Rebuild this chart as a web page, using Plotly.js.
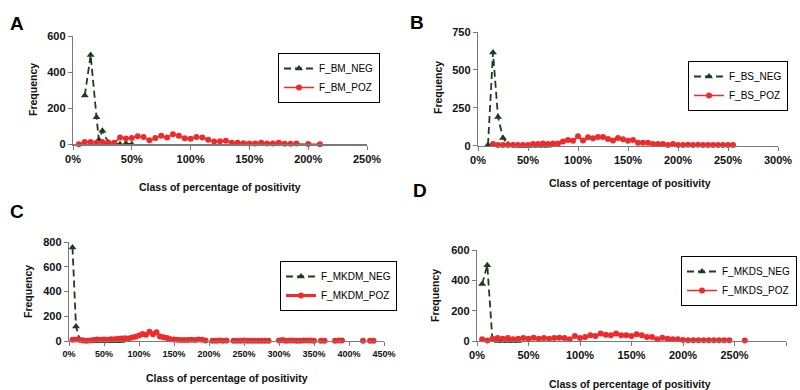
<!DOCTYPE html>
<html>
<head>
<meta charset="utf-8">
<script src="https://cdn.plot.ly/plotly-3.0.1.min.js"></script>
<style>html,body{margin:0;padding:0;background:#fff}#chart{width:800px;height:390px}</style>
</head>
<body>
<div id="chart"></div>
<script>
// ---------- DATA ----------
// Panel A
const A_neg_x = [10, 15, 20, 22, 25, 30, 35, 40, 45, 50];
const A_neg_y = [270, 495, 150, 25, 75, 10, 5, 0, 5, 0];
const A_poz_x = [5,10,15,20,25,30,35,40,45,50,55,60,65,70,75,80,85,90,95,100,105,110,115,120,125,130,135,140,145,150,155,160,165,170,175,180,185,190,200,210];
const A_poz_y = [0,13,13,8,13,10,8,37,32,35,45,41,22,35,47,37,56,48,33,31,41,37,25,15,17,19,9,9,6,5,5,8,5,5,8,3,3,4,2,0];
// Panel B
const B_neg_x = [10, 15, 20, 25, 30, 35, 40, 45, 50, 55, 60, 65, 70];
const B_neg_y = [5, 615, 190, 50, 10, 5, 0, 0, 0, 0, 0, 0, 0];
const B_poz_x = [15,20,25,30,35,40,45,50,55,60,65,70,75,80,85,90,95,100,105,110,115,120,125,130,135,140,145,150,155,160,165,170,175,180,185,190,195,200,205,210,215,220,225,230,235,240,245,250,255];
const B_poz_y = [11,4,4,4,4,4,4,4,11,11,15,11,15,15,27,38,33,62,35,55,49,57,57,45,35,50,42,33,38,20,20,20,11,11,11,5,11,5,5,7,5,7,5,5,5,5,5,5,5];
// Panel C
const C_neg_x = [5, 10, 15, 20, 25, 30, 35, 40, 45, 50, 55, 60, 65, 70, 75];
const C_neg_y = [755, 118, 10, 5, 0, 0, 0, 0, 0, 0, 0, 0, 0, 0, 0];
const C_poz_x = [5,10,15,20,25,30,35,40,45,50,55,60,65,70,75,80,85,90,95,100,105,110,115,120,125,130,135,140,145,150,155,160,165,170,175,180,185,190,195,200,205,210,215,220,225,230,235,240,245,250,255,260,265,270,275,280,285,290,295,300,305,310,315,320,325,330,335,340,345,350,355,360,365,370,375,380,385,390,395,400,405,410,415,420,425,430,435];
const C_poz_y = [10,12,10,5,3,5,8,12,10,12,10,15,15,18,20,22,20,28,35,45,57,50,75,55,70,37,30,25,15,12,10,8,8,8,10,8,12,10,5,null,3,3,5,3,5,null,3,3,3,5,3,3,3,3,3,3,3,null,null,5,8,3,5,5,3,3,5,5,5,3,null,3,3,null,null,3,5,5,null,null,null,null,null,3,null,3,3];
// Panel D
const D_neg_x = [5, 10, 15, 20, 25, 30, 35, 40];
const D_neg_y = [375, 500, 5, 0, 0, 0, 0, 0];
const D_poz_x = [5,10,15,20,25,30,35,40,45,50,55,60,65,70,75,80,85,90,95,100,105,110,115,120,125,130,135,140,145,150,155,160,165,170,175,180,185,190,195,200,205,210,215,220,225,230,235,240,245,250,255,260];
const D_poz_y = [11,4,15,20,15,20,11,15,20,15,22,15,20,15,20,22,20,11,33,20,27,38,33,49,42,38,49,38,38,33,44,38,27,27,11,22,15,11,11,7,5,5,5,5,5,5,5,5,5,null,null,4];

const names = {
  A: ['F_BM_NEG', 'F_BM_POZ'],
  B: ['F_BS_NEG', 'F_BS_POZ'],
  C: ['F_MKDM_NEG', 'F_MKDM_POZ'],
  D: ['F_MKDS_NEG', 'F_MKDS_POZ']
};
const yTicks = {A: [0,200,400,600], B: [0,250,500,750], C: [0,200,400,600,800], D: [0,200,400,600]};
const xMax = {A: 250, B: 300, C: 450, D: 300};
const yMax = {A: 600, B: 750, C: 800, D: 600};

// ---------- STYLE ----------
const W = 800, H = 390;
const px = x => x / W, py = y => 1 - y / H;
const FONT = 'Liberation Sans Narrow, Arial Narrow, Liberation Sans, Arial, sans-serif';
const GREEN = '#1e3d1e', RED = '#f02a2a';

const panels = [
  {k:'A', xs:'x',  ys:'y',  xa:'xaxis',  ya:'yaxis',  lg:'legend',  negX:A_neg_x, negY:A_neg_y, pozX:A_poz_x, pozY:A_poz_y, dom:[73,367,36,144.3], leg:[278,53], lbl:[17,23], yt:[33,90], xt:[220,187], xtick:11, pw:1.5},
  {k:'B', xs:'x2', ys:'y2', xa:'xaxis2', ya:'yaxis2', lg:'legend2', negX:B_neg_x, negY:B_neg_y, pozX:B_poz_x, pozY:B_poz_y, dom:[478,778,32,145.7], leg:[688,61], lbl:[417,22], yt:[438,88], xt:[630,183], xtick:11, pw:1.5},
  {k:'C', xs:'x3', ys:'y3', xa:'xaxis3', ya:'yaxis3', lg:'legend3', negX:C_neg_x, negY:C_neg_y, pozX:C_poz_x, pozY:C_poz_y, dom:[69,384,242,341], leg:[280,261], lbl:[17,212], yt:[28,292], xt:[227,378], xtick:9, pw:3},
  {k:'D', xs:'x4', ys:'y4', xa:'xaxis4', ya:'yaxis4', lg:'legend4', negX:D_neg_x, negY:D_neg_y, pozX:D_poz_x, pozY:D_poz_y, dom:[477,786,250,341], leg:[681,256], lbl:[420,190], yt:[435,295], xt:[630,384], xtick:11, pw:1.5}
];

const data = [];
const layout = {
  width: W, height: H,
  margin: {l:0, r:0, t:0, b:0},
  paper_bgcolor: '#fff', plot_bgcolor: '#fff',
  showlegend: true,
  font: {family: FONT, color: '#111'},
  annotations: []
};

panels.forEach(p => {
  data.push({
    x: p.negX, y: p.negY, xaxis: p.xs, yaxis: p.ys, legend: p.lg,
    name: names[p.k][0], type: 'scatter', mode: 'lines+markers', cliponaxis: false,
    line: {color: GREEN, width: 1.8, dash: '7px,4px'},
    marker: {symbol: 'triangle-up', size: 7, color: GREEN}
  });
  data.push({
    x: p.pozX, y: p.pozY, xaxis: p.xs, yaxis: p.ys, legend: p.lg,
    name: names[p.k][1], type: 'scatter', mode: 'lines+markers', cliponaxis: false,
    connectgaps: false,
    line: {color: RED, width: p.pw},
    marker: {symbol: 'circle', size: 6, color: RED}
  });
  const [x0, x1, y0, y1] = p.dom;
  layout[p.xa] = {
    domain: [px(x0), px(x1)], anchor: p.ys, range: [0, xMax[p.k]],
    dtick: 50, tick0: 0, ticksuffix: '%',
    showline: true, linecolor: '#7a7a7a', linewidth: 1.2,
    ticks: 'outside', ticklen: 4, tickcolor: '#7a7a7a',
    showgrid: false, zeroline: false,
    tickfont: {family: FONT, size: p.xtick, weight: 'bold', color: '#111'}
  };
  layout[p.ya] = {
    domain: [py(y1), py(y0)], anchor: p.xs, range: [0, yMax[p.k]],
    tickvals: yTicks[p.k],
    showline: true, linecolor: '#7a7a7a', linewidth: 1.2,
    ticks: 'outside', ticklen: 4, tickcolor: '#7a7a7a',
    showgrid: false, zeroline: false,
    tickfont: {family: FONT, size: 11, weight: 'bold', color: '#111'}
  };
  layout[p.lg] = {
    x: px(p.leg[0]), y: py(p.leg[1]), xanchor: 'left', yanchor: 'top',
    xref: 'paper', yref: 'paper',
    bgcolor: '#fff', bordercolor: '#000', borderwidth: 1,
    font: {family: FONT, size: 10, color: '#000'},
    itemwidth: 30, tracegroupgap: 0
  };
  layout.annotations.push(
    {text: p.k, x: px(p.lbl[0]), y: py(p.lbl[1]), xref: 'paper', yref: 'paper', showarrow: false,
     xanchor: 'center', yanchor: 'middle',
     font: {family: 'Liberation Sans, Arial, sans-serif', size: 19, weight: 'bold', color: '#000'}},
    {text: 'Frequency', x: px(p.yt[0]), y: py(p.yt[1]), xref: 'paper', yref: 'paper', showarrow: false, textangle: -90,
     xanchor: 'center', yanchor: 'middle',
     font: {family: FONT, size: 10.5, weight: 'bold', color: '#111'}},
    {text: 'Class of percentage of positivity', x: px(p.xt[0]), y: py(p.xt[1]), xref: 'paper', yref: 'paper', showarrow: false,
     xanchor: 'center', yanchor: 'middle',
     font: {family: FONT, size: 10.5, weight: 'bold', color: '#111'}}
  );
});

Plotly.newPlot('chart', data, layout, {staticPlot: true, displayModeBar: false});
</script>
</body>
</html>
